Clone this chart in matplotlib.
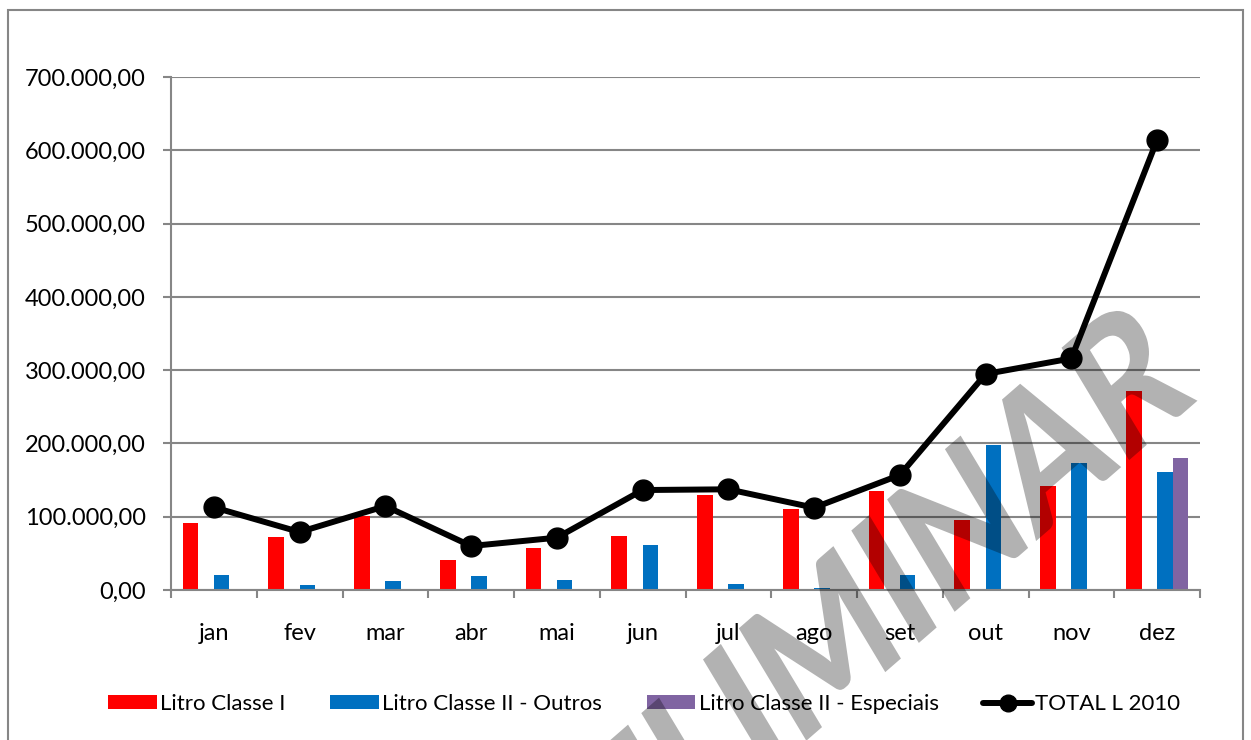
import numpy as np
import matplotlib
matplotlib.use("Agg")
import matplotlib.pyplot as plt
from matplotlib.patches import Rectangle, PathPatch
from matplotlib.textpath import TextPath
from matplotlib.font_manager import FontProperties
from matplotlib.transforms import Affine2D, IdentityTransform
from matplotlib.ticker import FuncFormatter

plt.rcParams['font.family'] = ['Lato', 'DejaVu Sans']

# monthly volumes (litres), 2010
months = ['jan', 'fev', 'mar', 'abr', 'mai', 'jun', 'jul', 'ago', 'set', 'out', 'nov', 'dez']
classe1 = [91000, 72300, 101000, 40900, 57300, 74100, 129200, 110100, 135000, 96000, 141500, 271500]
classe2_outros = [20500, 6800, 12000, 19100, 13600, 61900, 7700, 2700, 20900, 197400, 173300, 161400]
classe2_especiais = [0, 0, 0, 0, 0, 0, 0, 0, 0, 0, 0, 180100]
total = [112800, 79100, 114500, 60000, 71400, 136400, 137400, 112300, 156900, 294700, 316000, 614000]

grid_gray = '#868686'

fig = plt.figure(figsize=(12.51, 7.40), dpi=100)
ax = fig.add_axes([171 / 1251, 1 - 590 / 740, (1200 - 171) / 1251, (590 - 77) / 740])

x = np.arange(len(months))
w = 1 / 5.5
# four slots per month, second slot is an empty series
b1 = ax.bar(x - 1.5 * w, classe1, w, color='#FF0000', label='Litro Classe I', zorder=2)
b2 = ax.bar(x + 0.5 * w, classe2_outros, w, color='#0070C0', label='Litro Classe II - Outros', zorder=2)
b3 = ax.bar(x + 1.5 * w, classe2_especiais, w, color='#8064A2', label='Litro Classe II - Especiais', zorder=2)
ln, = ax.plot(x, total, color='black', lw=4.3, marker='o', markersize=15,
              solid_capstyle='round', label='TOTAL L 2010', zorder=3)

ax.set_xlim(-0.5, 11.5)
ax.set_ylim(0, 700000)
ax.set_yticks(np.arange(0, 700001, 100000))
ax.yaxis.set_major_formatter(FuncFormatter(
    lambda v, p: f'{v:,.2f}'.replace(',', 'X').replace('.', ',').replace('X', '.')))
ax.grid(axis='y', color=grid_gray, lw=1.5, zorder=0)
ax.set_axisbelow(True)

# category boundaries carry the tick marks, labels sit at the centres
ax.set_xticks(np.arange(-0.5, 12, 1))
ax.set_xticklabels([])
ax.set_xticks(x, minor=True)
ax.set_xticklabels(months, minor=True)
ax.tick_params(axis='x', which='major', length=6, width=1.5, color=grid_gray, direction='out')
ax.tick_params(axis='x', which='minor', length=0, pad=24, labelsize=17)
ax.tick_params(axis='y', length=6, width=1.5, color=grid_gray, pad=12, labelsize=17)

for s in ['top', 'right']:
    ax.spines[s].set_visible(False)
for s in ['left', 'bottom']:
    ax.spines[s].set_color(grid_gray)
    ax.spines[s].set_linewidth(1.5)

fig.legend([b1, b2, b3, ln], [b1.get_label(), b2.get_label(), b3.get_label(), ln.get_label()],
           loc='center', bbox_to_anchor=(0.515, 1 - 704 / 740), ncol=4, frameon=False,
           fontsize=16, handlelength=2.2, handleheight=0.6, handletextpad=0.15,
           columnspacing=2.0, markerscale=0.8)

# chart frame
fig.patches.append(Rectangle((8 / 1251, -0.05), (1243 - 8) / 1251, 1.05 - 10 / 740,
                             transform=fig.transFigure, fill=False,
                             edgecolor=grid_gray, lw=1.5))

# draft watermark: condensed, slanted and rotated text outline in pixel coordinates
wm = TextPath((0, 0), 'PRELIMINAR', size=178, prop=FontProperties(family='Lato', weight='black'))
ext = wm.get_extents()
wm_tf = (Affine2D()
         .translate(-(ext.x0 + ext.x1) / 2, -(ext.y0 + ext.y1) / 2)
         .scale(0.88, 1.0)
         .skew_deg(10, 0)
         .rotate_deg(41)
         .translate(810, 740 - 652))
fig.patches.append(PathPatch(wm_tf.transform_path(wm), transform=IdentityTransform(),
                             facecolor='black', edgecolor='none', alpha=0.3, zorder=10))

fig.savefig('out.png', dpi=100)
